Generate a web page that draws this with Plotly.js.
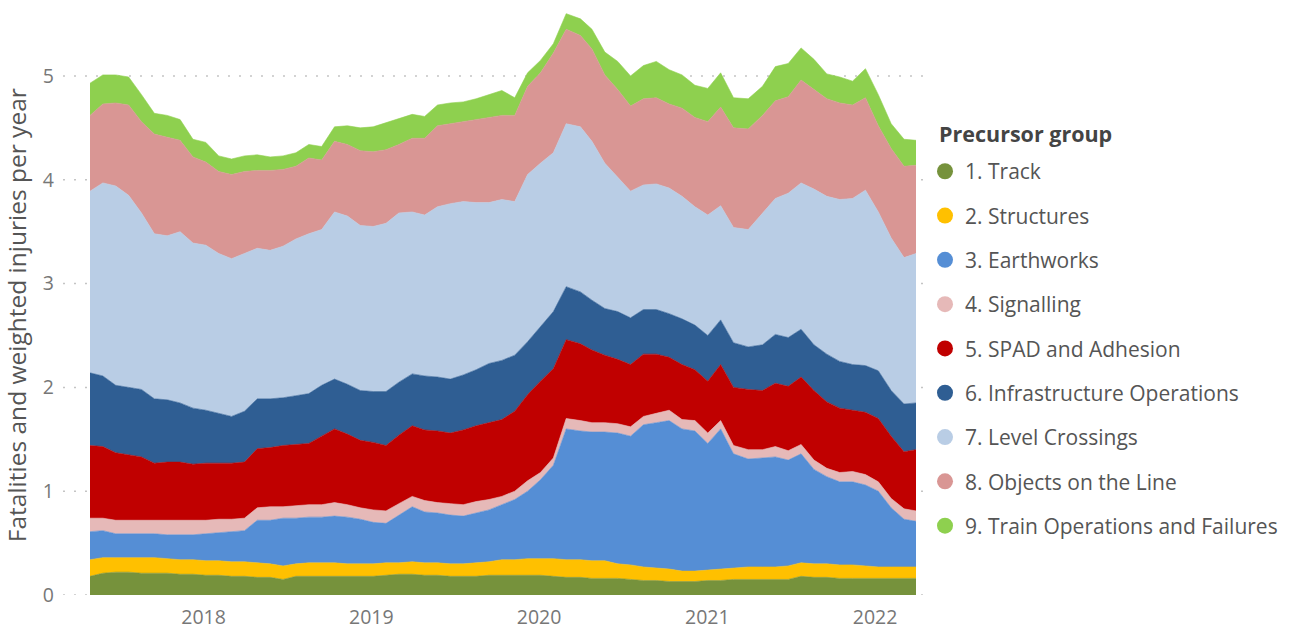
<!DOCTYPE html>
<html>
<head>
<meta charset="utf-8">
<script src="https://cdn.plot.ly/plotly-3.0.1.min.js"></script>
<style>
  html, body { margin: 0; padding: 0; background: #ffffff; }
  #chart { width: 1295px; height: 631px; }
</style>
</head>
<body>
<div id="chart"></div>
<script>
// Period end dates (4-weekly railway periods), 2017/18 P1 to 2021/22 P13
const periods = [
  "2017-04-29","2017-05-27","2017-06-24","2017-07-22","2017-08-19","2017-09-16","2017-10-14","2017-11-11","2017-12-09","2018-01-06","2018-02-03","2018-03-03","2018-03-31",
  "2018-04-28","2018-05-26","2018-06-23","2018-07-21","2018-08-18","2018-09-15","2018-10-13","2018-11-10","2018-12-08","2019-01-05","2019-02-02","2019-03-02","2019-03-31",
  "2019-04-27","2019-05-25","2019-06-22","2019-07-20","2019-08-17","2019-09-14","2019-10-12","2019-11-09","2019-12-07","2020-01-04","2020-02-01","2020-02-29","2020-03-31",
  "2020-04-25","2020-05-23","2020-06-20","2020-07-18","2020-08-15","2020-09-12","2020-10-10","2020-11-07","2020-12-05","2021-01-02","2021-01-30","2021-02-27","2021-03-31",
  "2021-05-01","2021-05-29","2021-06-26","2021-07-24","2021-08-21","2021-09-18","2021-10-16","2021-11-13","2021-12-11","2022-01-08","2022-02-05","2022-03-05","2022-03-31"
];

const yTickValues = [0, 1, 2, 3, 4, 5];
const legendTitle = "Precursor group";
const yTitle = "Fatalities and weighted injuries per year";

const groupNames = [
  "1. Track", "2. Structures", "3. Earthworks", "4. Signalling", "5. SPAD and Adhesion",
  "6. Infrastructure Operations", "7. Level Crossings", "8. Objects on the Line",
  "9. Train Operations and Failures"
];

const track = [0.18,0.21,0.22,0.22,0.21,0.21,0.21,0.20,0.20,0.19,0.19,0.18,0.18,
  0.17,0.17,0.15,0.18,0.18,0.18,0.18,0.18,0.18,0.18,0.19,0.20,0.20,
  0.19,0.19,0.18,0.18,0.18,0.19,0.19,0.19,0.19,0.19,0.18,0.17,0.17,
  0.16,0.16,0.16,0.15,0.14,0.14,0.13,0.13,0.13,0.14,0.14,0.15,0.15,
  0.15,0.15,0.15,0.18,0.17,0.17,0.16,0.16,0.16,0.16,0.16,0.16,0.16];

const structures = [0.16,0.15,0.14,0.14,0.15,0.15,0.14,0.14,0.14,0.14,0.14,0.14,0.14,
  0.14,0.13,0.13,0.12,0.13,0.13,0.13,0.12,0.12,0.12,0.12,0.11,0.12,
  0.12,0.12,0.12,0.12,0.13,0.13,0.15,0.15,0.16,0.16,0.17,0.17,0.17,
  0.17,0.17,0.14,0.14,0.13,0.12,0.12,0.10,0.10,0.10,0.11,0.11,0.12,
  0.12,0.12,0.13,0.13,0.13,0.13,0.13,0.13,0.12,0.11,0.11,0.11,0.11];

const earthworks = [0.27,0.26,0.23,0.23,0.23,0.23,0.23,0.24,0.24,0.26,0.27,0.29,0.30,
  0.41,0.42,0.46,0.44,0.44,0.44,0.45,0.45,0.43,0.40,0.38,0.46,0.53,
  0.49,0.48,0.47,0.46,0.48,0.50,0.53,0.58,0.65,0.76,0.90,1.26,1.24,
  1.24,1.24,1.26,1.24,1.37,1.40,1.43,1.37,1.35,1.22,1.35,1.10,1.04,
  1.05,1.06,1.02,1.05,0.91,0.84,0.80,0.80,0.78,0.73,0.57,0.46,0.44];

const signalling = [0.13,0.12,0.13,0.13,0.13,0.13,0.14,0.14,0.14,0.13,0.13,0.12,0.12,
  0.12,0.13,0.11,0.12,0.12,0.12,0.13,0.12,0.11,0.12,0.12,0.11,0.10,
  0.11,0.10,0.11,0.11,0.11,0.10,0.08,0.08,0.10,0.07,0.07,0.10,0.10,
  0.09,0.09,0.09,0.09,0.08,0.09,0.10,0.09,0.10,0.10,0.08,0.08,0.09,
  0.08,0.10,0.09,0.09,0.09,0.08,0.09,0.10,0.10,0.09,0.09,0.10,0.10];

const spadAdhesion = [0.70,0.69,0.65,0.63,0.61,0.55,0.56,0.56,0.54,0.55,0.54,0.54,0.54,
  0.57,0.57,0.59,0.59,0.59,0.66,0.71,0.68,0.65,0.65,0.63,0.66,0.68,
  0.68,0.69,0.68,0.72,0.73,0.74,0.74,0.77,0.83,0.88,0.86,0.76,0.74,
  0.70,0.65,0.62,0.60,0.60,0.57,0.51,0.53,0.49,0.50,0.54,0.56,0.58,
  0.57,0.61,0.62,0.65,0.67,0.64,0.62,0.59,0.60,0.61,0.60,0.55,0.59];

const infraOps = [0.70,0.68,0.65,0.65,0.65,0.62,0.60,0.57,0.54,0.51,0.48,0.45,0.49,
  0.48,0.47,0.46,0.47,0.48,0.49,0.48,0.48,0.48,0.49,0.52,0.51,0.50,
  0.52,0.52,0.52,0.53,0.54,0.57,0.57,0.54,0.51,0.52,0.55,0.51,0.50,
  0.48,0.45,0.46,0.45,0.43,0.43,0.42,0.44,0.43,0.44,0.43,0.43,0.41,
  0.44,0.47,0.47,0.46,0.44,0.46,0.45,0.44,0.45,0.46,0.44,0.46,0.45];

const levelCrossings = [1.75,1.86,1.92,1.85,1.70,1.59,1.58,1.65,1.59,1.59,1.54,1.52,1.52,
  1.45,1.43,1.46,1.51,1.54,1.50,1.61,1.62,1.59,1.59,1.62,1.63,1.56,
  1.55,1.64,1.69,1.67,1.61,1.55,1.55,1.48,1.61,1.58,1.53,1.57,1.59,
  1.53,1.40,1.30,1.22,1.20,1.21,1.21,1.18,1.14,1.16,1.10,1.11,1.13,
  1.27,1.31,1.39,1.41,1.50,1.52,1.56,1.60,1.69,1.53,1.47,1.41,1.44];

const objectsOnLine = [0.73,0.76,0.80,0.87,0.88,0.96,0.95,0.88,0.83,0.80,0.79,0.81,0.79,
  0.75,0.77,0.74,0.70,0.73,0.67,0.68,0.69,0.72,0.72,0.71,0.66,0.71,
  0.74,0.78,0.77,0.77,0.80,0.82,0.81,0.83,0.85,0.87,0.96,0.91,0.88,
  0.89,0.85,0.84,0.82,0.83,0.83,0.81,0.85,0.86,0.90,0.95,0.96,0.97,
  0.94,0.94,0.93,0.99,0.96,0.94,0.93,0.90,0.89,0.83,0.86,0.88,0.85];

const trainOps = [0.31,0.28,0.27,0.27,0.26,0.20,0.21,0.20,0.17,0.19,0.15,0.15,0.15,
  0.15,0.13,0.13,0.13,0.13,0.13,0.14,0.18,0.22,0.24,0.26,0.25,0.23,
  0.21,0.20,0.20,0.19,0.20,0.22,0.24,0.17,0.13,0.12,0.09,0.15,0.16,
  0.19,0.22,0.27,0.29,0.32,0.35,0.33,0.32,0.31,0.32,0.33,0.29,0.29,
  0.28,0.33,0.32,0.31,0.29,0.24,0.25,0.23,0.28,0.30,0.24,0.26,0.24];

const seriesValues = [track, structures, earthworks, signalling, spadAdhesion,
  infraOps, levelCrossings, objectsOnLine, trainOps];

const colors = ["#76923C", "#FFC000", "#558ED5", "#E6B9B8", "#C00000",
  "#2F5E93", "#B9CDE5", "#D99694", "#8ED04F"];

const FONT = "'Segoe UI', 'Open Sans', 'Noto Sans', sans-serif";

const traces = [];
seriesValues.forEach((vals, i) => {
  traces.push({
    type: "scatter",
    x: periods,
    y: vals,
    name: groupNames[i],
    stackgroup: "one",
    mode: "lines",
    line: { width: 0.6, color: colors[i], shape: "linear" },
    fillcolor: colors[i],
    legendgroup: "g" + i,
    showlegend: false,
    hoverinfo: "skip"
  });
});
// legend entries with round markers
groupNames.forEach((name, i) => {
  traces.push({
    type: "scatter",
    x: [null],
    y: [null],
    name: name,
    mode: "markers",
    marker: { color: colors[i], size: 16, symbol: "circle" },
    legendgroup: "g" + i,
    showlegend: true,
    hoverinfo: "skip"
  });
});

// dotted horizontal gridlines that run slightly past the plot area, as in the original
const gridShapes = yTickValues.map(v => ({
  type: "line",
  xref: "paper",
  yref: "y",
  x0: -0.0327,
  x1: 1.015,
  y0: v,
  y1: v,
  layer: "below",
  line: { color: "#c4c4c4", width: 1.5, dash: "2px,9px" }
}));

const layout = {
  width: 1295,
  height: 631,
  paper_bgcolor: "#ffffff",
  plot_bgcolor: "#ffffff",
  margin: { l: 90, r: 379, t: 9, b: 36 },
  font: { family: FONT, color: "#666666", size: 19 },
  showlegend: true,
  xaxis: {
    type: "date",
    range: [periods[0], periods[periods.length - 1]],
    tick0: "2018-01-01",
    dtick: "M12",
    tickformat: "%Y",
    showgrid: false,
    zeroline: false,
    showline: false,
    ticks: "",
    ticklabelstandoff: 8,
    tickfont: { family: FONT, size: 19.5, color: "#777777" },
    fixedrange: true
  },
  yaxis: {
    range: [0, 5.645],
    tickmode: "array",
    tickvals: yTickValues,
    ticktext: yTickValues.map(String),
    showgrid: false,
    zeroline: false,
    showline: false,
    ticks: "",
    ticklabelstandoff: 35,
    tickfont: { family: FONT, size: 19.5, color: "#777777" },
    fixedrange: true
  },
  shapes: gridShapes,
  legend: {
    x: 1.0109,
    xanchor: "left",
    y: 0.7575,
    yanchor: "top",
    traceorder: "grouped",
    tracegroupgap: 14,
    font: { family: FONT, size: 21, color: "#555555" },
    bgcolor: "rgba(0,0,0,0)"
  },
  annotations: [{
    text: "<b>" + legendTitle + "</b>",
    xref: "paper",
    yref: "paper",
    x: 1.026,
    xanchor: "left",
    y: 0.788,
    yanchor: "middle",
    showarrow: false,
    font: { family: FONT, size: 21.5, color: "#444444" }
  }, {
    text: yTitle,
    xref: "paper",
    yref: "paper",
    x: -0.088,
    xanchor: "center",
    y: 0.478,
    yanchor: "middle",
    textangle: -90,
    showarrow: false,
    font: { family: FONT, size: 24.5, color: "#555555" }
  }]
};

Plotly.newPlot("chart", traces, layout, { displayModeBar: false, staticPlot: true });
</script>
</body>
</html>
